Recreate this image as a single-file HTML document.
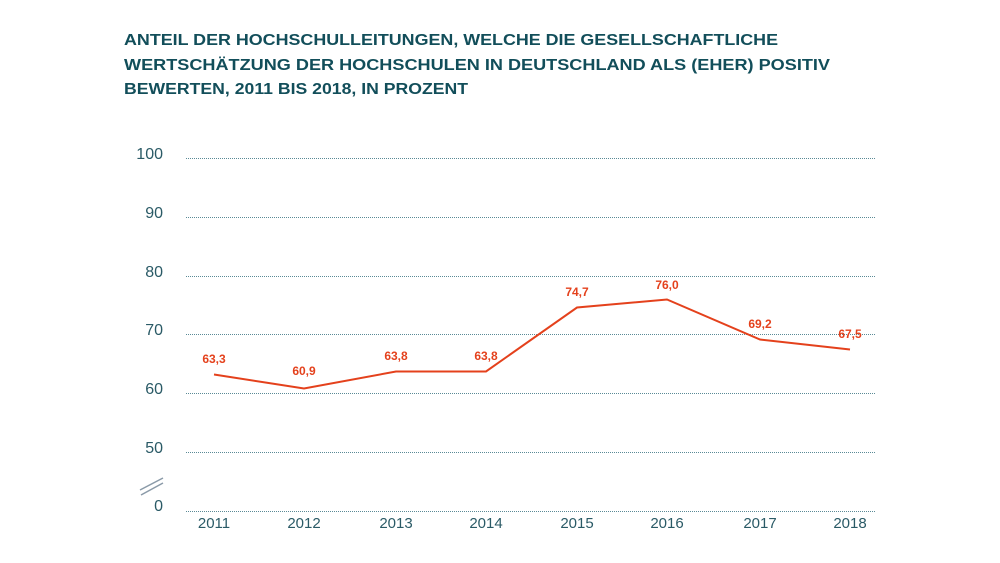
<!DOCTYPE html>
<html><head><meta charset="utf-8"><style>body{margin:0;background:#fff}svg{display:block}</style></head><body>
<svg width="1000" height="563" xmlns="http://www.w3.org/2000/svg" font-family="Liberation Sans, sans-serif">
<g fill="#124e5a" font-weight="bold" font-size="16">
<text x="124" y="45" textLength="654" lengthAdjust="spacingAndGlyphs">ANTEIL DER HOCHSCHULLEITUNGEN, WELCHE DIE GESELLSCHAFTLICHE</text>
<text x="124" y="70" textLength="706" lengthAdjust="spacingAndGlyphs">WERTSCHÄTZUNG DER HOCHSCHULEN IN DEUTSCHLAND ALS (EHER) POSITIV</text>
<text x="124" y="94" textLength="344" lengthAdjust="spacingAndGlyphs">BEWERTEN, 2011 BIS 2018, IN PROZENT</text>
</g>
<g stroke="#5a8a96" stroke-width="1" stroke-dasharray="1 1">
<line x1="186" x2="876" y1="158.5" y2="158.5"/><line x1="186" x2="876" y1="217.5" y2="217.5"/>
<line x1="186" x2="876" y1="276.5" y2="276.5"/><line x1="186" x2="876" y1="334.5" y2="334.5"/>
<line x1="186" x2="876" y1="393.5" y2="393.5"/><line x1="186" x2="876" y1="452.5" y2="452.5"/>
<line x1="186" x2="876" y1="511.5" y2="511.5"/>
</g>
<g fill="#2a5a66" font-size="16" text-anchor="end">
<text x="163" y="159">100</text><text x="163" y="218">90</text><text x="163" y="277">80</text>
<text x="163" y="335">70</text><text x="163" y="394">60</text><text x="163" y="453">50</text><text x="163" y="511">0</text>
</g>
<g stroke="#8a9aa8" stroke-width="1.5"><line x1="140" y1="490" x2="163" y2="478"/><line x1="141" y1="495" x2="163" y2="483"/></g>
<g fill="#2a5a66" font-size="15" text-anchor="middle">
<text x="214" y="528">2011</text><text x="304" y="528">2012</text><text x="396" y="528">2013</text><text x="486" y="528">2014</text>
<text x="577" y="528">2015</text><text x="667" y="528">2016</text><text x="760" y="528">2017</text><text x="850" y="528">2018</text>
</g>
<polyline fill="none" stroke="#e4411c" stroke-width="2" points="214,374.5 304,388.5 396,371.5 486,371.5 577,307.5 667,299.5 760,339.5 850,349.5"/>
<g fill="#e4411c" font-size="12" font-weight="bold" text-anchor="middle">
<text x="214" y="363">63,3</text><text x="304" y="375">60,9</text><text x="396" y="360">63,8</text><text x="486" y="360">63,8</text>
<text x="577" y="296">74,7</text><text x="667" y="289">76,0</text><text x="760" y="328">69,2</text><text x="850" y="338">67,5</text>
</g>
</svg>
</body></html>
